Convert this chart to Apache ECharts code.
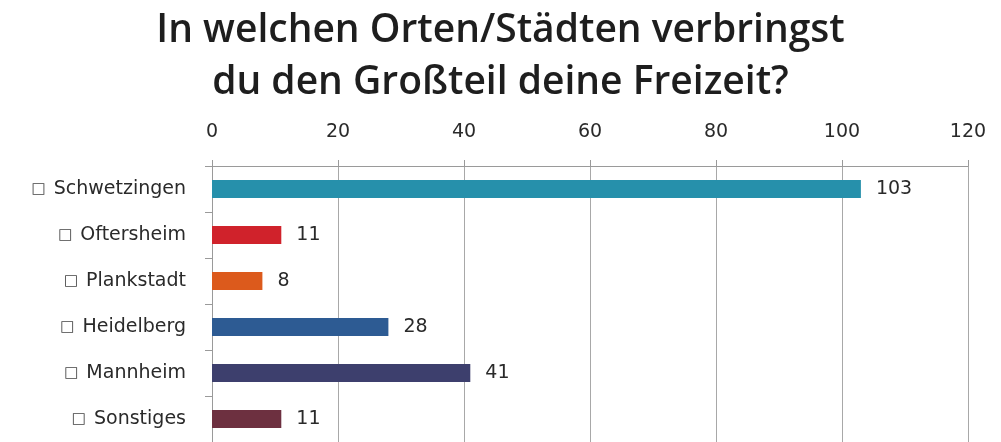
<!DOCTYPE html>
<html>
<head>
    <meta charset="utf-8">
    <title>Freizeit Orte</title>
    <script src="https://cdn.jsdelivr.net/npm/echarts@6/dist/echarts.min.js"></script>
    <style>
        html, body { margin: 0; padding: 0; background: #fff; }
        #main { width: 1001px; height: 442px; }
    </style>
</head>
<body>
<div id="main"></div>
<script type="text/javascript">
var orte = ['Schwetzingen', 'Oftersheim', 'Plankstadt', 'Heidelberg', 'Mannheim', 'Sonstiges'];
var anzahl = [103, 11, 8, 28, 41, 11];
var farben = ['#2690ab', '#d0222b', '#dc5a1c', '#2d5b93', '#3d3f6d', '#6d3040'];

var myChart = echarts.init(document.getElementById('main'));

var option = {
    animation: false,
    title: {
        text: 'In welchen Orten/Städten verbringst\ndu den Großteil deine Freizeit?',
        left: 'center',
        top: 0,
        textStyle: {
            fontFamily: 'Open Sans',
            fontWeight: 600,
            fontSize: 39,
            lineHeight: 52,
            color: '#1e1e1e'
        }
    },
    grid: {
        left: 212,
        right: 33,
        top: 166,
        bottom: -6
    },
    xAxis: {
        type: 'value',
        position: 'top',
        min: 0,
        max: 120,
        interval: 20,
        axisLine: { show: true, lineStyle: { color: '#9a9a9a' } },
        axisTick: { show: true, length: 6, lineStyle: { color: '#9a9a9a' } },
        splitLine: { show: true, lineStyle: { color: '#a8a8a8' } },
        axisLabel: {
            margin: 24,
            fontFamily: 'DejaVu Sans',
            fontSize: 19,
            color: '#2a2a2a'
        }
    },
    yAxis: {
        type: 'category',
        inverse: true,
        data: orte,
        axisLine: { show: true, lineStyle: { color: '#9a9a9a' } },
        axisTick: { show: true, length: 7, lineStyle: { color: '#9a9a9a' } },
        axisLabel: {
            margin: 26,
            color: '#2a2a2a',
            formatter: function (v) { return '{sq|\u25a1}{t|' + v + '}'; },
            rich: {
                sq: { fontFamily: 'DejaVu Sans', fontSize: 15, color: '#444', padding: [0, 8, 0, 0] },
                t: { fontFamily: 'DejaVu Sans', fontSize: 19, color: '#2a2a2a' }
            }
        }
    },
    series: [{
        type: 'bar',
        barWidth: 18,
        data: anzahl.map(function (v, i) {
            return { value: v, itemStyle: { color: farben[i] } };
        }),
        label: {
            show: true,
            position: 'right',
            distance: 15,
            fontFamily: 'DejaVu Sans',
            fontSize: 19,
            color: '#2a2a2a'
        }
    }]
};

myChart.setOption(option);
</script>
</body>
</html>
